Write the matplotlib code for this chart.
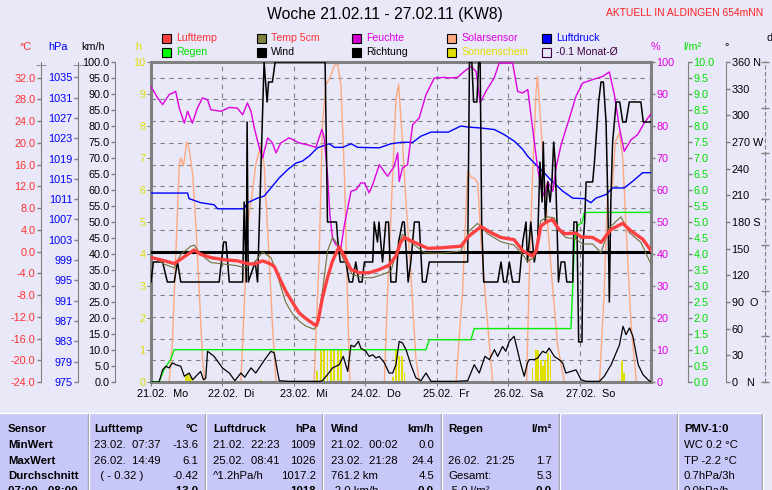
import matplotlib
matplotlib.use("Agg")
import matplotlib.pyplot as plt
import matplotlib.transforms as mtransforms
from matplotlib.patches import Rectangle

plt.rcParams['font.family'] = ['Liberation Sans', 'DejaVu Sans']

BG = '#e8e8f8'
GRAY = '#808080'

# ---- data (x in hours since 21.02. 00:00) ----
day_labels = ["21.02.  Mo", "22.02.  Di", "23.02.  Mi", "24.02.  Do",
              "25.02.  Fr", "26.02.  Sa", "27.02.  So"]

temp_h = [0, 3.3, 7.8, 10, 12.3, 14.5, 16.7, 20.1, 24.6, 29, 32.4, 34.7, 37.5, 40.3, 41.5,
          43.1, 45.3, 47.6, 49.8, 52, 54.8, 55.6, 56.2, 57.6, 59.3, 61, 63.2, 64.9, 67.2,
          70, 73.3, 76.7, 80, 82.3, 83.9, 85.1, 88.5, 93, 97.4, 104.1, 106.9, 110.9, 114.2,
          117.6, 122, 125, 127.1, 128.2, 129.4, 131, 132.7, 134.8, 137.1, 138.9, 142.8,
          144.5, 148.4, 151.2, 154.6, 158.5, 161.3, 165.2, 168]
temp_c = [-1.1, -1.5, -2.2, -1.4, -0.5, 0.3, -0.5, -1.1, -1.5, -1.7, -2.2, -2.3, -1.7, -2.3, -2.8,
          -4.8, -7.3, -9.4, -11.3, -12.3, -13.4, -13.6, -12.6, -8.5, -4.8, -1.7, 0.9, -0.8, -3.3,
          -3.9, -3.9, -3.3, -2.5, -0.8, 1.7, 2.6, 1.7, 0.6, 0.7, 1.0, 2.9, 4.6, 3.5,
          2.6, 2.2, 0.1, -0.5, -0.8, 0.1, 4.7, 5.4, 5.9, 4.1, 3.3, 3.4,
          2.7, 2.6, 1.7, 4.1, 5.2, 3.8, 2.3, 0.2]

soil_h = [0, 4.4, 7.8, 10, 13.4, 14.5, 16.7, 20.1, 24.6, 29, 31.3, 34.7, 37.5, 40.3, 42.5,
          43.1, 45.3, 47.6, 49.8, 52, 54.8, 55.9, 57.6, 59.3, 61, 62.6, 64.9, 67.7, 71.1,
          74.5, 77.8, 80.6, 82.9, 84.5, 87.3, 91.9, 97.4, 104.1, 106.9, 109.7, 113.1, 117.6,
          122, 125.4, 126.5, 128.8, 131, 133.3, 135.5, 137.1, 139.4, 142.8, 145, 148.4,
          151.2, 154, 157.9, 160.7, 164.6, 168]
soil_c = [-0.8, -2.3, -3.0, -0.5, 1.0, 1.2, -0.5, -2.0, -2.3, -2.6, -3.0, -2.0, -0.1, -1.1, -4.2,
          -5.5, -9.4, -11.5, -12.8, -13.7, -14.3, -13.4, -7.3, 0.1, 2.6, 1.4, -1.7, -4.2, -4.8,
          -4.8, -4.2, -3.6, 0.7, 3.2, 1.7, -0.2, -0.3, 0.1, 3.8, 5.2, 3.3, 1.8,
          1.2, -0.9, -1.8, -1.1, 5.7, 6.4, 6.2, 3.8, 2.6, 2.3, 1.4, 1.4,
          -0.2, 4.4, 6.4, 3.5, 1.7, -2.3]

month_avg_c = -0.1

hum_h = [0, 2.2, 3.9, 6.1, 8.3, 9.5, 11.2, 12.3, 13.9, 15.6, 17.3, 19, 20.1, 23.5, 26.3, 29,
         30.8, 32.4, 33.6, 34.7, 36.4, 37.5, 39.2, 40.8, 42, 43.6, 46.4, 49.8, 53.1, 55.4,
         57.4, 58.2, 59.3, 60.1, 61, 62.1, 63.8, 65, 67.2, 68.9, 70.5, 71.7, 73.3, 74.5,
         76.7, 79.5, 81.7, 82.9, 83.4, 84.5, 86.2, 87.9, 90.1, 92.4, 95.2, 98.5, 100.2,
         103, 105.3, 107.5, 109.2, 110.6, 112.5, 115.3, 117, 121.5, 123.2, 124.9, 126.6,
         128.2, 129.9, 131, 132.2, 133.3, 135, 136.1, 137.8, 140.6, 142.8, 145, 148.4,
         151.8, 154, 155.7, 157.4, 159, 161.3, 163.5, 165.7, 168]
hum_pct = [92.4, 88.8, 86.7, 89.8, 90.8, 85.6, 80.9, 84.6, 80.9, 85.6, 88.8, 88.2, 85.1, 84.6,
           85.8, 85.6, 83.5, 87.2, 84.6, 79.4, 73.1, 70.0, 76.3, 74.7, 71.6, 74.7, 76.3, 74.7,
           74.0, 73.3, 78.9, 76.3, 64.8, 52.3, 45.0, 42.9, 41.9, 49.2, 59.6, 60.1, 62.2, 62.2,
           59.1, 61.7, 67.9, 64.3, 67.4, 71.6, 62.7, 66.9, 67.9, 80.4, 82.5, 89.8, 95.0, 95.2,
           95.0, 95.2, 97.1, 98.6, 97.1, 87.2, 90.8, 95.0, 99.7, 99.7, 90.8, 90.3, 91.4, 79.4,
           66.9, 60.6, 58.0, 62.7, 59.6, 66.9, 74.2, 82.5, 89.3, 93.4, 94.5, 95.5, 96.9, 89.8,
           79.4, 72.1, 75.7, 77.3, 80.9, 83.8]

press_h = [0, 12.3, 12.8, 16.7, 21.2, 22.4, 31.3, 32.4, 35.8, 38, 40.3, 43.1, 45.9, 48.7, 50.9,
           53.2, 55.9, 58.8, 59.9, 61.6, 64.4, 67.3, 69.4, 76.7, 80.6, 84.5, 88, 90.7, 94.1,
           99.9, 104.1, 106.4, 110.9, 115.4, 118.7, 122.1, 124.9, 126.5, 128.8, 131.6, 134.8,
           138.3, 141.7, 145.6, 147.8, 149.5, 152.9, 155.1, 159, 161.8, 165.2, 168]
press_hpa = [1012.2, 1012.2, 1011.1, 1010.3, 1009.9, 1009.1, 1009.1, 1010.3, 1011.2, 1011.6,
             1013.2, 1015.2, 1016.8, 1018.1, 1018.5, 1019.5, 1021.1, 1021.7, 1021.9, 1021.2,
             1021.2, 1021.9, 1021.2, 1021.1, 1021.9, 1022.2, 1022.2, 1023.4, 1024.2, 1024.2,
             1025.4, 1025.2, 1025.0, 1024.7, 1023.7, 1022.4, 1020.8, 1019.5, 1018.1, 1016.5,
             1014.5, 1012.6, 1011.2, 1011.1, 1010.3, 1011.2, 1011.9, 1013.2, 1013.2, 1014.5,
             1016.2, 1016.2]

wind_h = [0, 2.7, 3.9, 5, 6.1, 7.2, 8.3, 10, 11.2, 12.8, 14, 15.6, 16.7, 17.6, 18.4, 19, 21.2,
          24, 26.3, 28.2, 30.2, 31.5, 33.6, 35.2, 37.5, 38.6, 40.3, 41.4, 42.5, 43.1, 46.4,
          56.5, 57.6, 59.3, 61, 63.2, 64.6, 66.1, 67.2, 68.3, 69.7, 70.5, 72.2, 73.3, 74.5,
          75.6, 76.7, 78.4, 80, 81.2, 82.3, 83.4, 84.5, 85.7, 87.3, 89, 90.7, 92.4, 94.1,
          102.5, 106.4, 108.6, 110.3, 112.2, 113.7, 115.4, 116.5, 118.1, 119.2, 120.4, 122,
          123.2, 124.3, 125.4, 126.5, 127.1, 128.8, 129.9, 131.6, 132.7, 133.8, 135.5, 137.1,
          138.3, 139.4, 141.1, 142.8, 144.5, 146.2, 150.7, 152.3, 154.6, 157.4, 158.6, 159.6,
          160.8, 161.9, 163.7, 165.3, 167, 168]
wind_kmh = [0, 0, 3.8, 4.9, 4.4, 6.0, 5.4, 4.9, 1.8, 2.8, 0.7, 2.3, 3.3, 0.7, 1.2, 9.6, 8.0,
            4.4, 2.8, 0.4, 2.8, 1.5, 4.4, 2.8, 6.0, 7.5, 9.6, 9.1, 3.3, 0.4, 0.2,
            0.2, 0.4, 2.3, 4.4, 5.4, 8.0, 3.3, 11.5, 11.0, 12.7, 10.6, 9.6, 8.0, 8.5,
            7.5, 8.0, 6.0, 2.8, 2.8, 5.4, 12.7, 12.2, 10.1, 5.4, 1.3, 0.4, 2.8, 0.2,
            0.2, 0.4, 5.4, 2.8, 8.0, 7.0, 10.1, 8.0, 11.1, 9.6, 12.7, 14.3,
            9.6, 5.4, 1.8, 6.0, 7.0, 7.0, 7.5, 9.6, 9.1, 10.6, 8.0, 7.0,
            6.0, 2.8, 3.3, 3.8, 0.7, 0.2, 0.2, 1.8, 5.4, 11.6, 17.4, 14.8,
            16.9, 14.3, 5.4, 2.3, 0.7, 0]

dir_h = [0, 0.8, 3.9, 5.5, 7.8, 8.9, 10, 22.9, 24.4, 25.2, 26.3, 30.8, 31.3, 32, 32.3, 32.7,
         35, 35.8, 38, 39, 39.5, 40.8, 41.7, 58.5, 59.3, 62.3, 62.8, 63.6, 65.5, 66.6, 67.7,
         68.8, 69.9, 70.9, 71.7, 74.5, 75, 76.1, 76.6, 77.8, 78.9, 79.8, 80.6, 82.3, 83.2,
         84.5, 85.1, 86, 86.4, 87.3, 88.5, 90.1, 91.2, 92.4, 93.5, 106.4, 107, 107.8, 108.4,
         109.5, 110.1, 110.6, 111.1, 111.8, 116.5, 117.6, 118.5, 119.4, 120.4, 121.5, 123.7,
         124.9, 126, 126.5, 127.6, 128.8, 129.9, 130.7, 131.4, 131.8, 132.5, 133.3, 134.1,
         134.7, 135.3, 135.8, 136.4, 136.9, 137.8, 139, 139.7, 141.7, 142.1, 143.1, 143.7,
         144.8, 145.2, 145.7, 146.2, 148.4, 149, 150.4, 151.2, 152, 152.9, 153.5, 154,
         154.5, 155.1, 156.3, 157.5, 158.5, 159.6, 160.7, 164.6, 165.4, 168]
dir_deg = [112.5, 135, 135, 112.5, 112.5, 135, 112.5, 112.5, 157.5, 157.5, 112.5, 112.5, 202.5,
           112.5, 292.5, 112.5, 135, 112.5, 360, 315, 337.5, 337.5, 360, 360, 180, 180, 157.5,
           135, 135, 112.5, 112.5, 135, 112.5, 112.5, 135, 135, 180, 157.5, 180, 135, 180,
           180, 112.5, 112.5, 157.5, 180, 180, 135, 112.5, 135, 180, 180, 112.5, 112.5, 135,
           135, 360, 360, 315, 315, 360, 360, 180, 112.5, 112.5, 135, 112.5, 112.5, 135,
           112.5, 112.5, 157.5, 180, 135, 180, 135, 157.5, 247.5, 202.5, 270, 180, 225,
           202.5, 225, 270, 247.5, 180, 112.5, 135, 135, 112.5, 112.5, 180, 180, 45, 45,
           157.5, 180, 225, 225, 247.5, 315, 337.5, 337.5, 292.5, 202.5, 90, 202.5, 270,
           315, 315, 292.5, 292.5, 315, 315, 292.5, 292.5]

rain_h = [0, 2.7, 4.4, 5.5, 6.6, 7.8, 92.4, 93.5, 107.5, 108.6, 141.1, 141.7, 142.3, 143.4,
          144.8, 145.6, 168]
rain_l = [0, 0, 0.39, 0.55, 0.7, 1.01, 1.01, 1.32, 1.32, 1.67, 1.67, 3.0, 4.4, 4.9, 4.97, 5.3, 5.3]

solar_h = [0, 6.1, 7.2, 8.3, 9.5, 10, 10.9, 12, 12.8, 14, 15.1, 16.2, 17.3, 18.1,
           30.2, 31.3, 32.4, 33.8, 35.2, 36.9, 38, 39.4, 40.8, 42,
           54.8, 56.5, 57.6, 58.8, 60.4, 61.6, 62.7, 63.8, 65, 66.1, 66.8,
           78.4, 79.5, 81.2, 82.3, 83.2, 84.5, 85.6, 87.3, 89, 90.1,
           102.5, 104.7, 106.4, 107.5, 108.9, 109.8, 110.9, 112.2, 113.7, 114.8,
           126.2, 127.1, 128.2, 129.4, 129.9, 131, 132.7, 134.9, 136.6, 138.9,
           150.7, 152.3, 153.4, 154.2, 155, 156, 157.4, 158.5, 159.6, 161.3, 163.1, 168]
solar_wm2 = [0, 0, 125, 390, 680, 700, 675, 750, 730, 650, 490, 285, 75, 0,
             0, 230, 490, 575, 680, 740, 680, 440, 180, 0,
             0, 390, 805, 930, 955, 990, 995, 930, 645, 230, 0,
             0, 280, 645, 885, 930, 750, 575, 335, 75, 0,
             0, 285, 660, 640, 635, 620, 440, 285, 115, 0,
             0, 335, 645, 910, 955, 805, 560, 300, 115, 0,
             0, 285, 595, 600, 605, 750, 780, 700, 490, 180, 0, 0]

sun_h = [11.7, 12.3, 13.2, 13.7, 36.9, 55.9, 57.1, 58.2, 59.3, 60.4, 61.6, 62.7, 63.8,
         81.3, 82.4, 83.4, 84.3, 85.2, 128.2, 129.4, 130.1, 131, 131.6, 132.4, 133.3, 134.2,
         157.4, 158.2, 159]
sun_val = [0.2, 0.25, 0.15, 0.1, 0.07, 0.33, 1.0, 1.0, 1.0, 1.0, 1.0, 1.0, 1.0,
           0.17, 1.0, 0.8, 0.8, 0.27, 0.44, 1.0, 1.0, 0.7, 0.5, 0.7, 0.9, 0.85,
           0.07, 0.67, 0.28]

# ---- figure ----
W, H = 772, 490
fig = plt.figure(figsize=(W / 100, H / 100), dpi=100, facecolor=BG)


def fx(x):
    return x / W


def fy(y):
    return 1 - y / H


ax = fig.add_axes([fx(151), fy(382), 500 / W, 320 / H])
ax.patch.set_visible(False)
ax.set_xlim(0, 168)
ax.set_ylim(0, 10)
ax.set_zorder(2)
for sp in ax.spines.values():
    sp.set_color(GRAY)
    sp.set_linewidth(2.2)
ax.set_yticks(range(0, 11), [str(v) for v in range(0, 11)])
ax.tick_params(axis='y', direction='out', length=3, color=GRAY, labelcolor='#e0e000',
               labelsize=7.8, pad=1)
ax.set_xticks(range(0, 168, 24), day_labels)
ax.tick_params(axis='x', direction='out', length=3, color=GRAY, labelsize=7.8, pad=2)
off = mtransforms.ScaledTranslation(-0.14, 0, fig.dpi_scale_trans)
for lab in ax.get_xticklabels():
    lab.set_horizontalalignment('left')
    lab.set_transform(lab.get_transform() + off)


def scale_axis(lo, hi, z, side=None, pos=0.0, ticks=(), labels=(), color='black'):
    a = ax.twinx()
    a.set_ylim(lo, hi)
    a.set_zorder(z)
    a.patch.set_visible(False)
    for sp in a.spines.values():
        sp.set_visible(False)
    if side is None:
        a.set_yticks([])
        return a
    a.spines[side].set_visible(True)
    a.spines[side].set_position(('axes', pos))
    a.spines[side].set_color(GRAY)
    a.yaxis.set_ticks_position(side)
    a.set_yticks(list(ticks), list(labels))
    a.tick_params(axis='y', direction='out', length=3, width=1, color=GRAY,
                  labelcolor=color, labelsize=7.8, pad=1)
    return a


c_ticks = list(range(-24, 33, 4))
p_ticks = list(range(975, 1036, 4))
w_ticks = [v * 5 for v in range(21)]
hum_ticks = list(range(0, 101, 10))
r_ticks = [v * 0.5 for v in range(21)]
d_ticks = list(range(0, 361, 30))
d_names = {0: "0   N", 90: "90  O", 180: "180 S", 270: "270 W", 360: "360 N"}

# grid (same scale as °C)
axG = scale_axis(-24, 34.9, 0)
for t in c_ticks[1:]:
    axG.axhline(t, color=GRAY, lw=0.8, ls=(0, (4, 4)))
for d in range(24, 168, 24):
    axG.axvline(d, color=GRAY, lw=0.8, ls=(0, (4, 4)))

axS = scale_axis(0, 1000, 1)
axS.plot(solar_h, solar_wm2, color='#ffa880', lw=1)

ax.bar(sun_h, sun_val, width=0.6, color='#e0e000', zorder=1)

axR = scale_axis(0, 10, 3, 'right', 1.074, r_ticks, ["%.1f" % v for v in r_ticks], '#00e000')
axR.plot(rain_h, rain_l, color='#00ee00', lw=1)

axP = scale_axis(975, 1038, 4, 'left', -0.146, p_ticks, [str(v) for v in p_ticks], '#0000ff')
axP.plot(press_h, press_hpa, color='#0000ff', lw=1)
axP.set_yticks([1037.4], minor=True)
axP.tick_params(axis='y', which='minor', direction='inout', length=7, color=GRAY)

axH = scale_axis(0, 100, 5, 'right', 1.0, hum_ticks, [str(v) for v in hum_ticks], '#e000e0')
axH.plot(hum_h, hum_pct, color='#e000e0', lw=1)

axW = scale_axis(0, 100, 6, 'left', -0.072, w_ticks, ["%.1f" % v for v in w_ticks], 'black')
axW.plot(wind_h, wind_kmh, color='black', lw=0.9)

axD = scale_axis(0, 360, 7, 'right', 1.15, d_ticks, [d_names.get(v, str(v)) for v in d_ticks], 'black')
axD.plot(dir_h, dir_deg, color='black', lw=1.1)

axT = scale_axis(-24, 34.9, 8, 'left', -0.22, c_ticks, ["%.1f" % v for v in c_ticks], '#ff3030')
axT.set_yticks([34.3], minor=True)
axT.tick_params(axis='y', which='minor', direction='inout', length=7, color=GRAY)
axT.axhline(month_avg_c, color='black', lw=2.2)
axT.plot(soil_h, soil_c, color='#707038', lw=0.8)
axT.plot(temp_h, temp_c, color='#ff4040', lw=2.4)

# cut-off dashed axis at the far right
axX = scale_axis(0, 7, 0.5, 'right', 1.228, range(8), [''] * 8)
axX.spines['right'].set_linestyle((0, (3, 3)))
axX.tick_params(axis='y', direction='inout', length=6)

# ---- titles and axis units ----
fig.text(fx(385), fy(15), "Woche 21.02.11 - 27.02.11 (KW8)", fontsize=11.3,
         ha='center', va='center')
fig.text(fx(763), fy(13), "AKTUELL IN ALDINGEN 654mNN", fontsize=7.4, color='#ff2020',
         ha='right', va='center')
units = [(25, "°C", '#ff3030'), (58, "hPa", '#0000ff'), (93, "km/h", 'black'),
         (138, "h", '#e0e000'), (655, "%", '#e000e0'), (692, "l/m²", '#00e000'),
         (727, "°", 'black')]
for x, s, c in units:
    fig.text(fx(x), fy(47), s, fontsize=7.8, color=c, ha='center', va='center')
fig.text(fx(770), fy(38), "d", fontsize=7.8, ha='center', va='center')

# ---- legend ----
legend_items = [
    ("Lufttemp", '#ff4040', '#ff3030'), ("Temp 5cm", '#808040', '#ff3030'),
    ("Feuchte", '#d000d0', '#e000e0'), ("Solarsensor", '#ffa880', '#e000e0'),
    ("Luftdruck", '#0000ff', '#0000ff'),
    ("Regen", '#00ff00', '#00e000'), ("Wind", 'black', 'black'),
    ("Richtung", 'black', 'black'), ("Sonnenschein", '#e0e000', '#e0e000'),
    ("-0.1 Monat-Ø", 'none', '#400040'),
]
col_x = [162, 257, 352, 447, 542]
row_y = [38, 52]
for i, (name, box, tcol) in enumerate(legend_items):
    x = col_x[i % 5]
    y = row_y[i // 5]
    edge = '#400040' if box == 'none' else 'black'
    fig.add_artist(Rectangle((fx(x), fy(y + 5)), 9 / W, 9 / H, transform=fig.transFigure,
                             facecolor=box, edgecolor=edge, lw=0.8))
    fig.text(fx(x + 14), fy(y), name, fontsize=7.6, color=tcol, ha='left', va='center')

# ---- statistics table ----
fig.add_artist(Rectangle((0, 0), fx(762), fy(414), transform=fig.transFigure,
                         facecolor='#c8c8f8', edgecolor='none'))
fig.add_artist(plt.Line2D([0, fx(762)], [fy(413), fy(413)], transform=fig.transFigure,
                          color='white', lw=1))
for sx in [88, 205, 322, 441, 559, 677, 762]:
    fig.add_artist(plt.Line2D([fx(sx), fx(sx)], [fy(414), 0], transform=fig.transFigure,
                              color='#a0a0a8', lw=1))
    fig.add_artist(plt.Line2D([fx(sx + 1.3), fx(sx + 1.3)], [fy(414), 0],
                              transform=fig.transFigure, color='white', lw=0.8))

rows_y = [429, 445, 460.5, 476, 491.5]
left_cols = [8, 94, 213, 331, 448, 684]
right_cols = [198.5, 316, 434, 552]
table_left = [
    [("Sensor", True), ("Lufttemp", True), ("Luftdruck", True), ("Wind", True), ("Regen", True), ("PMV-1:0", True)],
    [("MinWert", True), ("23.02.  07:37", False), ("21.02.  22:23", False), ("21.02.  00:02", False), ("", False), ("WC 0.2 °C", False)],
    [("MaxWert", True), ("26.02.  14:49", False), ("25.02.  08:41", False), ("23.02.  21:28", False), ("26.02.  21:25", False), ("TP -2.2 °C", False)],
    [("Durchschnitt", True), ("  ( - 0.32 )", False), ("^1.2hPa/h", False), ("761.2 km", False), ("Gesamt:", False), ("0.7hPa/3h", False)],
    [("07:00 - 08:00", True), ("", False), ("", False), ("-2.0 km/h", False), ("-5.0 l/m²", False), ("0.0hPa/h", False)],
]
table_right = [
    [("°C", True), ("hPa", True), ("km/h", True), ("l/m²", True)],
    [("-13.6", False), ("1009", False), ("0.0", False), ("", False)],
    [("6.1", False), ("1026", False), ("24.4", False), ("1.7", False)],
    [("-0.42", False), ("1017.2", False), ("4.5", False), ("5.3", False)],
    [("-13.0", True), ("1018", True), ("0.0", True), ("0.0", True)],
]
for r, y in enumerate(rows_y):
    for x, (s, b) in zip(left_cols, table_left[r]):
        fig.text(fx(x), fy(y), s, fontsize=8.2, fontweight='bold' if b else 'normal',
                 ha='left', va='center')
    for x, (s, b) in zip(right_cols, table_right[r]):
        fig.text(fx(x), fy(y), s, fontsize=8.2, fontweight='bold' if b else 'normal',
                 ha='right', va='center')

fig.savefig("out.png", dpi=100, facecolor=BG)
